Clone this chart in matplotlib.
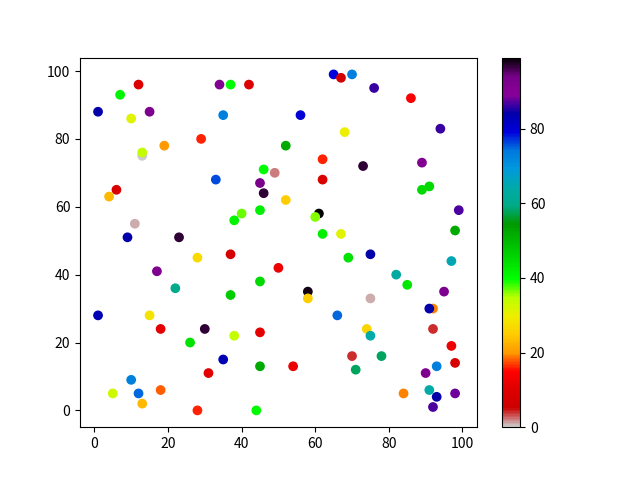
import matplotlib
matplotlib.use("Agg")
import matplotlib.pyplot as plt

plt.rcParams['font.family'] = ['Noto Sans CJK SC', 'DejaVu Sans']

# x, y and colour value of each point
x = [12, 34, 37, 42, 65, 67, 70, 76, 86, 56,
     68, 94, 52, 62, 73, 89, 62, 89, 91, 52,
     61, 60, 99, 98, 62, 67, 49, 7, 1, 10,
     15, 35, 29, 19, 13, 13, 46, 33, 45, 46,
     6, 4, 45, 40, 38, 11, 9, 23, 28, 37,
     50, 17, 22, 45, 37, 1, 15, 18, 30, 38,
     45, 26, 35, 45, 31, 10, 5, 12, 18, 13,
     28, 44, 69, 75, 97, 82, 85, 95, 58, 58,
     75, 92, 91, 66, 74, 75, 92, 97, 70, 78,
     54, 71, 93, 98, 90, 84, 91, 93, 98, 92]
y = [96, 96, 96, 96, 99, 98, 99, 95, 92, 87,
     82, 83, 78, 74, 72, 73, 68, 65, 66, 62,
     58, 57, 59, 53, 52, 52, 70, 93, 88, 86,
     88, 87, 80, 78, 75, 76, 71, 68, 67, 64,
     65, 63, 59, 58, 56, 55, 51, 51, 45, 46,
     42, 41, 36, 38, 34, 28, 28, 24, 24, 22,
     23, 20, 15, 13, 11, 9, 5, 5, 6, 2,
     0, 0, 45, 46, 44, 40, 37, 35, 35, 33,
     33, 30, 30, 28, 24, 22, 24, 19, 16, 16,
     13, 12, 13, 14, 11, 5, 6, 4, 5, 1]
c = [10, 91, 40, 10, 79, 7, 73, 86, 14, 80,
     30, 86, 52, 16, 97, 91, 9, 45, 45, 25,
     99, 36, 87, 52, 42, 31, 2, 41, 84, 31,
     92, 73, 16, 20, 0, 34, 40, 76, 93, 97,
     9, 23, 42, 37, 41, 1, 84, 97, 27, 8,
     12, 92, 60, 45, 47, 83, 28, 11, 97, 34,
     11, 44, 83, 52, 11, 73, 33, 75, 18, 23,
     16, 40, 44, 84, 65, 63, 43, 92, 98, 25,
     1, 19, 84, 75, 26, 64, 4, 12, 4, 58,
     12, 58, 73, 8, 92, 19, 64, 84, 88, 87]

plt.scatter(x, y, c=c, cmap='nipy_spectral_r')
plt.colorbar()
plt.savefig('out.png')
